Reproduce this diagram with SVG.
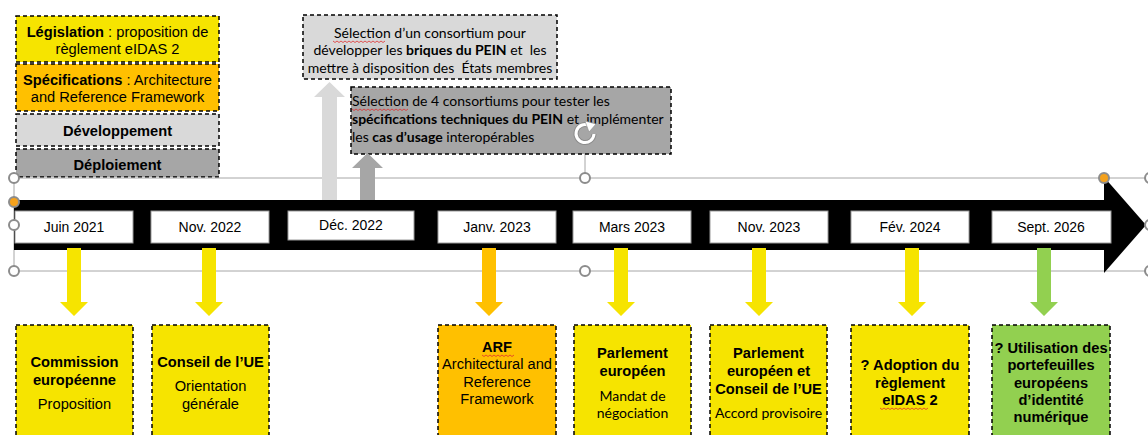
<svg xmlns="http://www.w3.org/2000/svg" width="1148" height="435" viewBox="0 0 1148 435">
<defs>
<style>
.ar{font-family:"Liberation Sans",Arial,sans-serif;font-size:14.67px;fill:#000}
.b{font-weight:bold}
.ca{font-family:Lato,"Liberation Sans",sans-serif;font-size:14px;fill:#000;white-space:pre}
.dash{stroke:#000;stroke-width:1.5;stroke-dasharray:4 3}
.date{fill:#fff;stroke:#9a9a9a;stroke-width:1}
.dt{font-family:"Liberation Sans",Arial,sans-serif;font-size:14px;fill:#000;text-anchor:middle}
.c{text-anchor:middle}
.sel{fill:none;stroke:#a6a6a6;stroke-width:1}
.h{fill:#fff;stroke:#8c8c8c;stroke-width:2}
.ho{fill:#f4a11c;stroke:#8c8c8c;stroke-width:2}
.sq{fill:none;stroke:#e03030;stroke-width:0.8}
.y{fill:#f6e400}
.o{fill:#ffc000}
.g{fill:#92d050}
</style>
</defs>

<!-- legend -->
<g id="legend-legislation">
<rect x="16" y="16" width="203" height="46" class="y dash"/>
<text class="ar c" x="117.5" y="37"><tspan class="b">Législation</tspan> : proposition de</text>
<text class="ar c" x="117.5" y="54">règlement eIDAS 2</text>
</g>
<g id="legend-specifications">
<rect x="16" y="64" width="203" height="47" class="o dash"/>
<text class="ar c" x="117.5" y="85"><tspan class="b">Spécifications</tspan> : Architecture</text>
<text class="ar c" x="117.5" y="102">and Reference Framework</text>
</g>
<g id="legend-developpement">
<rect x="16" y="114" width="203" height="32" fill="#d9d9d9" class="dash"/>
<text class="ar c b" x="117.5" y="136">Développement</text>
</g>
<g id="legend-deploiement">
<rect x="16" y="149" width="203" height="28" fill="#a6a6a6" class="dash"/>
<text class="ar c b" x="117.5" y="170">Déploiement</text>
</g>

<!-- selection frame lines -->
<g id="selection">
<line x1="14" y1="178" x2="1148" y2="178" class="sel"/>
<line x1="14" y1="271" x2="1148" y2="271" class="sel"/>
<line x1="14" y1="178" x2="14" y2="271" class="sel"/>
<line x1="585" y1="146" x2="585" y2="178" class="sel" stroke="#8c8c8c"/>
</g>

<!-- main timeline arrow -->
<g id="timeline">
<path d="M14 200 H1104 V177 L1146 225 L1104 273 V250 H14 Z" fill="#000"/>
</g>

<!-- top boxes -->
<g id="box-developpement">
<rect x="303" y="15" width="254" height="64" fill="#d9d9d9" class="dash"/>
<text class="ca c" x="430" y="38">Sélection d’un consortium pour</text>
<text class="ca c" x="430" y="55">développer les <tspan font-weight="bold">briques du PEIN</tspan> et  les</text>
<text class="ca c" x="430" y="73">mettre à disposition des  États membres</text>
<path class="sq" d="M333 41 l2 1.5 l2 -1.5 l2 1.5 l2 -1.5 l2 1.5 l2 -1.5 l2 1.5 l2 -1.5 l2 1.5 l2 -1.5 l2 1.5 l2 -1.5 l2 1.5 l2 -1.5 l2 1.5 l2 -1.5 l2 1.5 l2 -1.5 l2 1.5 l2 -1.5 l2 1.5 l2 -1.5 l2 1.5 l2 -1.5 l2 1.5 l2 -1.5"/>
</g>
<g id="box-deploiement">
<rect x="351" y="87" width="320" height="67" fill="#a6a6a6" class="dash"/>
<text class="ca" x="352" y="106">Sélection de 4 consortiums pour tester les</text>
<text class="ca" x="352" y="124"><tspan font-weight="bold">spécifications techniques du PEIN</tspan> et  implémenter</text>
<text class="ca" x="352" y="142">les <tspan font-weight="bold">cas d’usage</tspan> interopérables</text>
<path class="sq" d="M352 109 l2 1.5 l2 -1.5 l2 1.5 l2 -1.5 l2 1.5 l2 -1.5 l2 1.5 l2 -1.5 l2 1.5 l2 -1.5 l2 1.5 l2 -1.5 l2 1.5 l2 -1.5 l2 1.5 l2 -1.5 l2 1.5 l2 -1.5 l2 1.5 l2 -1.5 l2 1.5 l2 -1.5 l2 1.5 l2 -1.5 l2 1.5 l2 -1.5 l2 1.5 l2 -1.5"/>
</g>

<!-- connectors -->
<g id="connectors">
<path d="M322 200 V97 H314 L329.5 82 L345 97 H337 V200 Z" fill="#d9d9d9"/>
<path d="M360 200 V168 H352 L367.5 153 L383 168 H375 V200 Z" fill="#a6a6a6"/>
<path d="M67 248 V302 H60 L74 316 L88 302 H81 V248 Z" class="y"/>
<path d="M202 248 V302 H195 L209 316 L223 302 H216 V248 Z" class="y"/>
<path d="M482 248 V302 H475 L489 316 L503 302 H496 V248 Z" class="o"/>
<path d="M614 248 V302 H607 L621 316 L635 302 H628 V248 Z" class="y"/>
<path d="M752 248 V302 H745 L759 316 L773 302 H766 V248 Z" class="y"/>
<path d="M905 248 V302 H898 L912 316 L926 302 H919 V248 Z" class="y"/>
<path d="M1037 248 V302 H1030 L1044 316 L1058 302 H1051 V248 Z" class="g"/>
</g>

<!-- date labels -->
<g id="date-juin-2021"><rect x="15" y="211" width="118" height="32" class="date"/><text class="dt" x="74" y="232">Juin 2021</text></g>
<g id="date-nov-2022"><rect x="151" y="211" width="118" height="32" class="date"/><text class="dt" x="210" y="232">Nov. 2022</text></g>
<g id="date-dec-2022"><rect x="288" y="211" width="126" height="29" class="date"/><text class="dt" x="351" y="230">Déc. 2022</text></g>
<g id="date-janv-2023"><rect x="438" y="211" width="118" height="32" class="date"/><text class="dt" x="497" y="232">Janv. 2023</text></g>
<g id="date-mars-2023"><rect x="573" y="211" width="118" height="32" class="date"/><text class="dt" x="632" y="232">Mars 2023</text></g>
<g id="date-nov-2023"><rect x="710" y="211" width="118" height="32" class="date"/><text class="dt" x="769" y="232">Nov. 2023</text></g>
<g id="date-fev-2024"><rect x="851" y="211" width="118" height="32" class="date"/><text class="dt" x="910" y="232">Fév. 2024</text></g>
<g id="date-sept-2026"><rect x="992" y="211" width="119" height="32" class="date"/><text class="dt" x="1051" y="232">Sept. 2026</text></g>

<!-- bottom boxes -->
<g id="commission">
<rect x="16" y="325" width="117" height="120" class="y dash"/>
<text class="ar c b" x="74.5" y="367">Commission</text>
<text class="ar c b" x="74.5" y="385">européenne</text>
<text class="ar c" x="74.5" y="409">Proposition</text>
</g>
<g id="conseil">
<rect x="152" y="325" width="117" height="120" class="y dash"/>
<text class="ar c b" x="210.5" y="367">Conseil de l’UE</text>
<text class="ar c" x="210.5" y="391">Orientation</text>
<text class="ar c" x="210.5" y="409">générale</text>
</g>
<g id="arf">
<rect x="438" y="325" width="118" height="120" class="o dash"/>
<text class="ar c b" x="497" y="352">ARF</text>
<path class="sq" d="M482 355 l2 1.5 l2 -1.5 l2 1.5 l2 -1.5 l2 1.5 l2 -1.5 l2 1.5 l2 -1.5 l2 1.5 l2 -1.5 l2 1.5 l2 -1.5 l2 1.5 l2 -1.5 l2 1.5 l2 -1.5"/>
<text class="ar c" x="497" y="369">Architectural and</text>
<text class="ar c" x="497" y="387">Reference</text>
<text class="ar c" x="497" y="404">Framework</text>
</g>
<g id="parlement">
<rect x="574" y="325" width="117" height="120" class="y dash"/>
<text class="ar c b" x="632.5" y="358">Parlement</text>
<text class="ar c b" x="632.5" y="376">européen</text>
<text class="ca c" x="632.5" y="401">Mandat de</text>
<text class="ca c" x="632.5" y="418">négociation</text>
</g>
<g id="parlement-conseil">
<rect x="710" y="325" width="117" height="120" class="y dash"/>
<text class="ar c b" x="768.5" y="358">Parlement</text>
<text class="ar c b" x="768.5" y="376">européen et</text>
<text class="ar c b" x="768.5" y="394">Conseil de l’UE</text>
<text class="ca c" x="768.5" y="418">Accord provisoire</text>
</g>
<g id="adoption">
<rect x="851" y="325" width="118" height="120" class="y dash"/>
<text class="ar c b" x="910" y="370">? Adoption du</text>
<text class="ar c b" x="910" y="388">règlement</text>
<text class="ar c b" x="910" y="405">eIDAS 2</text>
<path class="sq" d="M880 408 l2 1.5 l2 -1.5 l2 1.5 l2 -1.5 l2 1.5 l2 -1.5 l2 1.5 l2 -1.5 l2 1.5 l2 -1.5 l2 1.5 l2 -1.5 l2 1.5 l2 -1.5 l2 1.5 l2 -1.5 l2 1.5 l2 -1.5 l2 1.5 l2 -1.5 l2 1.5 l2 -1.5 l2 1.5 l2 -1.5"/>
</g>
<g id="utilisation">
<rect x="992" y="325" width="118" height="120" class="g dash"/>
<text class="ar c b" x="1051" y="353">? Utilisation des</text>
<text class="ar c b" x="1051" y="370">portefeuilles</text>
<text class="ar c b" x="1051" y="388">européens</text>
<text class="ar c b" x="1051" y="405">d’identité</text>
<text class="ar c b" x="1051" y="422">numérique</text>
</g>

<!-- selection handles -->
<g id="handles">
<circle cx="14" cy="178" r="5" class="h"/>
<circle cx="14" cy="202" r="5" class="ho"/>
<circle cx="14" cy="225" r="5" class="h"/>
<circle cx="14" cy="271" r="5" class="h"/>
<circle cx="585" cy="178" r="5" class="h"/>
<circle cx="585" cy="271" r="5" class="h"/>
<circle cx="1104" cy="178" r="5" class="ho"/>
<circle cx="1150" cy="178" r="5" class="h"/>
<circle cx="1150" cy="225" r="5" class="h"/>
<circle cx="1150" cy="271" r="5" class="h"/>
<g id="rotate">
<path d="M594 134 A9 9 0 1 1 589 125.5" fill="none" stroke="#7a7a7a" stroke-width="5" opacity="0.6"/>
<path d="M594 134 A9 9 0 1 1 589 125.5" fill="none" stroke="#fff" stroke-width="3"/>
<path d="M585 121 L596 124 L589 132 Z" fill="#fff" stroke="#8c8c8c" stroke-width="0.6"/>
</g>
</g>
</svg>
